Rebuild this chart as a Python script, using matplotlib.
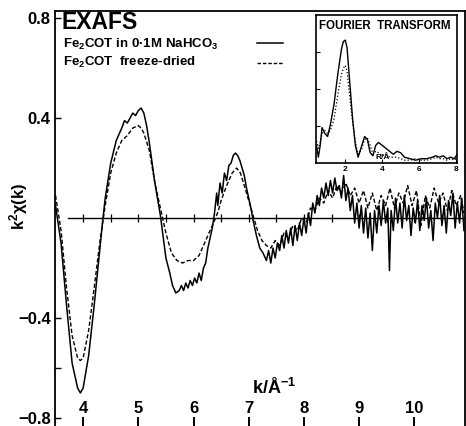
import matplotlib
matplotlib.use("Agg")
import matplotlib.pyplot as plt
import matplotlib.transforms as mtransforms

plt.rcParams['font.family'] = ['Liberation Sans', 'DejaVu Sans']
plt.rcParams['font.weight'] = 'bold'
plt.rcParams['mathtext.fontset'] = 'custom'
plt.rcParams['mathtext.rm'] = 'Liberation Sans:bold'
plt.rcParams['mathtext.it'] = 'Liberation Sans:bold'
plt.rcParams['mathtext.bf'] = 'Liberation Sans:bold'

# EXAFS, Fe2COT in 0.1M NaHCO3 (solid)
k_sol = [3.50, 3.60, 3.70, 3.80, 3.90, 3.95, 4.00, 4.10, 4.20, 4.30, 4.35, 4.40, 4.50, 4.60,
         4.70, 4.75, 4.80, 4.85, 4.90, 4.95, 5.00, 5.05, 5.10, 5.15, 5.20, 5.30, 5.40, 5.50,
         5.57, 5.62, 5.68, 5.74, 5.78, 5.82, 5.86, 5.90, 5.94, 5.98, 6.02, 6.06, 6.10, 6.14,
         6.18, 6.22, 6.26, 6.30, 6.34, 6.38, 6.42, 6.44, 6.48, 6.52, 6.56, 6.60, 6.64, 6.68,
         6.72, 6.76, 6.80, 6.84, 6.88, 6.92, 6.96, 7.00, 7.04, 7.08, 7.14, 7.20, 7.26, 7.32,
         7.36, 7.40, 7.44, 7.48, 7.52, 7.56, 7.60, 7.64, 7.68, 7.72, 7.76, 7.80, 7.84, 7.88,
         7.92, 7.96, 8.00, 8.04, 8.08, 8.12, 8.16, 8.20, 8.24, 8.28, 8.32, 8.36, 8.40, 8.44,
         8.48, 8.52, 8.56, 8.60, 8.64, 8.68, 8.72, 8.76, 8.80, 8.84, 8.88, 8.92, 8.96, 9.00,
         9.04, 9.08, 9.12, 9.16, 9.20, 9.24, 9.28, 9.32, 9.36, 9.40, 9.44, 9.48, 9.52, 9.55,
         9.58, 9.62, 9.66, 9.70, 9.74, 9.78, 9.82, 9.86, 9.90, 9.94, 9.98, 10.02, 10.06, 10.10,
         10.14, 10.18, 10.22, 10.26, 10.30, 10.34, 10.38, 10.42, 10.46, 10.50, 10.54, 10.58,
         10.62, 10.66, 10.70, 10.74, 10.78, 10.82, 10.86, 10.90]
chi_sol = [0.05, -0.10, -0.35, -0.58, -0.68, -0.70, -0.68, -0.55, -0.35, -0.13, -0.02, 0.08, 0.22, 0.31,
           0.36, 0.39, 0.38, 0.40, 0.42, 0.41, 0.43, 0.44, 0.42, 0.37, 0.30, 0.14, 0.01, -0.16,
           -0.22, -0.27, -0.30, -0.29, -0.27, -0.29, -0.26, -0.28, -0.25, -0.27, -0.24, -0.26, -0.22, -0.25,
           -0.20, -0.18, -0.12, -0.08, -0.04, 0.02, 0.10, 0.05, 0.14, 0.10, 0.18, 0.15, 0.21, 0.22,
           0.25, 0.26, 0.25, 0.23, 0.20, 0.17, 0.12, 0.08, 0.04, -0.01, -0.07, -0.12, -0.14, -0.17,
           -0.13, -0.18, -0.12, -0.16, -0.10, -0.13, -0.07, -0.12, -0.05, -0.10, -0.04, -0.11, -0.03, -0.09,
           -0.02, -0.07, 0.00, -0.06, 0.02, -0.03, 0.06, 0.02, 0.09, 0.05, 0.12, 0.08, 0.14, 0.09,
           0.15, 0.10, 0.16, 0.11, 0.13, 0.08, 0.17, 0.07, 0.12, 0.03, 0.09, -0.02, 0.06, -0.04,
           0.05, -0.06, 0.04, -0.08, 0.02, -0.13, 0.03, -0.06, 0.05, -0.03, 0.07, -0.02, 0.04, -0.21,
           0.03, -0.05, 0.08, -0.02, 0.06, -0.04, 0.09, -0.01, 0.05, -0.07, 0.04, -0.02, 0.07, -0.05,
           0.05, -0.01, 0.08, -0.04, 0.03, -0.09, 0.06, 0.00, 0.09, -0.03, 0.05, -0.06,
           0.07, 0.01, 0.10, -0.04, 0.06, -0.02, 0.08, -0.05]

# EXAFS, Fe2COT freeze-dried (dashed)
k_fd = [3.50, 3.60, 3.70, 3.80, 3.90, 3.95, 4.00, 4.10, 4.20, 4.30, 4.40, 4.50, 4.60, 4.70,
        4.80, 4.90, 5.00, 5.05, 5.10, 5.20, 5.30, 5.40, 5.50, 5.55, 5.60, 5.70, 5.80, 5.90,
        6.00, 6.10, 6.20, 6.30, 6.40, 6.45, 6.50, 6.60, 6.70, 6.78, 6.85, 6.92, 7.00, 7.08,
        7.16, 7.24, 7.32, 7.40, 7.48, 7.56, 7.64, 7.72, 7.80, 7.88, 7.96, 8.04, 8.12, 8.20,
        8.28, 8.36, 8.44, 8.52, 8.60, 8.68, 8.76, 8.84, 8.92, 9.00, 9.08, 9.16, 9.24, 9.32,
        9.40, 9.48, 9.56, 9.64, 9.72, 9.80, 9.88, 9.96, 10.04, 10.12, 10.20, 10.28, 10.36, 10.44,
        10.52, 10.60, 10.68, 10.76, 10.84, 10.90]
chi_fd = [0.09, -0.05, -0.28, -0.47, -0.56, -0.57, -0.56, -0.45, -0.28, -0.10, 0.05, 0.18, 0.26, 0.31,
          0.33, 0.36, 0.37, 0.36, 0.34, 0.27, 0.14, 0.04, -0.06, -0.10, -0.14, -0.17, -0.18, -0.17,
          -0.17, -0.15, -0.10, -0.05, 0.00, 0.03, 0.07, 0.13, 0.18, 0.20, 0.18, 0.13, 0.07, 0.01,
          -0.05, -0.09, -0.11, -0.12, -0.09, -0.11, -0.06, -0.08, -0.03, -0.05, 0.00, -0.02, 0.04, 0.03,
          0.08, 0.06, 0.11, 0.08, 0.13, 0.10, 0.14, 0.09, 0.12, 0.06, 0.11, 0.04, 0.10, 0.03,
          0.09, 0.05, 0.12, 0.04, 0.10, 0.06, 0.13, 0.05, 0.11, -0.03, 0.09, 0.04, 0.12, 0.06,
          0.10, 0.03, 0.11, 0.05, 0.09, 0.02]

# Fourier transform inset
r_ft = [0.45, 0.55, 0.65, 0.75, 0.9, 1.05, 1.2, 1.4, 1.6, 1.8, 1.9, 2.0, 2.1, 2.2, 2.4, 2.55,
        2.7, 2.9, 3.05, 3.2, 3.35, 3.5, 3.65, 3.8, 4.0, 4.2, 4.4, 4.6, 4.8, 5.0, 5.2, 5.5,
        5.8, 6.1, 6.4, 6.7, 6.9, 7.1, 7.3, 7.5, 7.7, 7.9, 8.05]
ft_sol = [0.12, 0.04, 0.12, 0.24, 0.20, 0.18, 0.26, 0.40, 0.60, 0.77, 0.82, 0.83, 0.78, 0.62, 0.30, 0.12,
          0.04, 0.12, 0.18, 0.16, 0.07, 0.05, 0.12, 0.14, 0.12, 0.10, 0.08, 0.06, 0.08, 0.07, 0.04, 0.03,
          0.02, 0.03, 0.03, 0.04, 0.05, 0.04, 0.05, 0.03, 0.04, 0.03, 0.06]
ft_fd = [0.15, 0.10, 0.14, 0.20, 0.22, 0.20, 0.22, 0.30, 0.46, 0.60, 0.64, 0.66, 0.62, 0.50, 0.28, 0.14,
         0.06, 0.10, 0.16, 0.17, 0.12, 0.06, 0.08, 0.07, 0.05, 0.06, 0.04, 0.04, 0.04, 0.03, 0.02, 0.02,
         0.03, 0.02, 0.02, 0.03, 0.04, 0.03, 0.03, 0.02, 0.03, 0.02, 0.04]

x_ticks = [4, 5, 6, 7, 8, 9, 10]
zero_ticks = [4.0, 4.5, 5.0, 5.5, 6.0, 6.5, 7.0, 7.5, 8.0, 8.5, 9.0, 9.5, 10.0, 10.5]
y_ticks = [-0.8, -0.4, 0.4, 0.8]
ft_ticks = [2, 4, 6, 8]

fig = plt.figure(figsize=(4.66, 4.26), dpi=100)
ax = fig.add_axes([0.118, 0.0, 0.880, 0.974])
ax.plot(k_sol, chi_sol, color='black', linewidth=1.1)
ax.plot(k_fd, chi_fd, color='black', linewidth=1.0, dashes=(3, 1.6))
ax.set_xlim(3.49, 10.92)
ax.set_ylim(-0.832, 0.828)

# zero line with small ticks
ax.axhline(0, xmin=(3.73 - 3.49) / (10.92 - 3.49), color='black', linewidth=1.0)
ax.plot(zero_ticks, [0] * len(zero_ticks), linestyle='none', marker='|',
        markersize=6, color='black', markeredgewidth=0.9)

ax.spines['bottom'].set_visible(False)
for s in ['left', 'top', 'right']:
    ax.spines[s].set_linewidth(1.3)
ax.set_xticks([])
ax.set_yticks(y_ticks)
ax.set_yticklabels(['\u22120.8', '\u22120.4', '0.4', '0.8'], fontsize=12, fontweight='bold')
ax.set_yticks([-0.6], minor=True)
ax.tick_params(axis='y', which='both', direction='in', length=4, width=1, pad=3)

# k tick labels drawn inside the frame
trans = mtransforms.blended_transform_factory(ax.transData, ax.transAxes)
for t in x_ticks:
    ax.text(t, 0.041, str(t), transform=trans, ha='center', va='center',
            fontsize=12, fontweight='bold')
ax.vlines(x_ticks, 0.0, 0.022, transform=trans, color='black', linewidth=1.4)
ax.text(7.46, 0.092, 'k/Å$^{-1}$', transform=trans, ha='center', va='center', fontsize=13)

ax.set_ylabel('k$^2$χ(k)', fontsize=12, fontweight='bold')
ax.yaxis.set_label_coords(-0.06, 0.53)

# title and legend
ax.text(0.015, 1.0, 'EXAFS', transform=ax.transAxes, ha='left', va='top',
        fontsize=16.5, fontweight='bold')
ax.text(0.02, 0.92, 'Fe$_2$COT in 0·1M NaHCO$_3$', transform=ax.transAxes,
        ha='left', va='center', fontsize=9.5, fontweight='bold')
ax.text(0.02, 0.875, 'Fe$_2$COT  freeze-dried', transform=ax.transAxes,
        ha='left', va='center', fontsize=9.5, fontweight='bold')
ax.plot([0.493, 0.556], [0.922, 0.922], transform=ax.transAxes, color='black', linewidth=1.1)
ax.plot([0.493, 0.556], [0.876, 0.876], transform=ax.transAxes, color='black',
        linewidth=1.0, dashes=(2.5, 1.4))

# inset: Fourier transform
ins = fig.add_axes([0.678, 0.617, 0.303, 0.348])
ins.plot(r_ft, ft_sol, color='black', linewidth=1.0)
ins.plot(r_ft, ft_fd, color='black', linewidth=0.9, linestyle=':')
ins.set_xlim(0.42, 8.05)
ins.set_ylim(0, 1.0)
for s in ins.spines.values():
    s.set_linewidth(1.2)
ins.set_xticks(ft_ticks)
ins.set_xticklabels([str(t) for t in ft_ticks], fontsize=6, fontweight='bold')
ins.set_yticks([0.25, 0.5, 0.75])
ins.set_yticklabels([])
ins.tick_params(axis='both', direction='in', length=3, width=0.8, pad=2)
ins.text(0.02, 0.965, 'FOURIER  TRANSFORM', transform=ins.transAxes, ha='left', va='top',
         fontsize=8.3, fontweight='bold')
ins.text(4.0, 0.035, 'R/Å', ha='center', va='center', fontsize=6, fontweight='bold')

fig.savefig('out.png', dpi=100, facecolor='white')
